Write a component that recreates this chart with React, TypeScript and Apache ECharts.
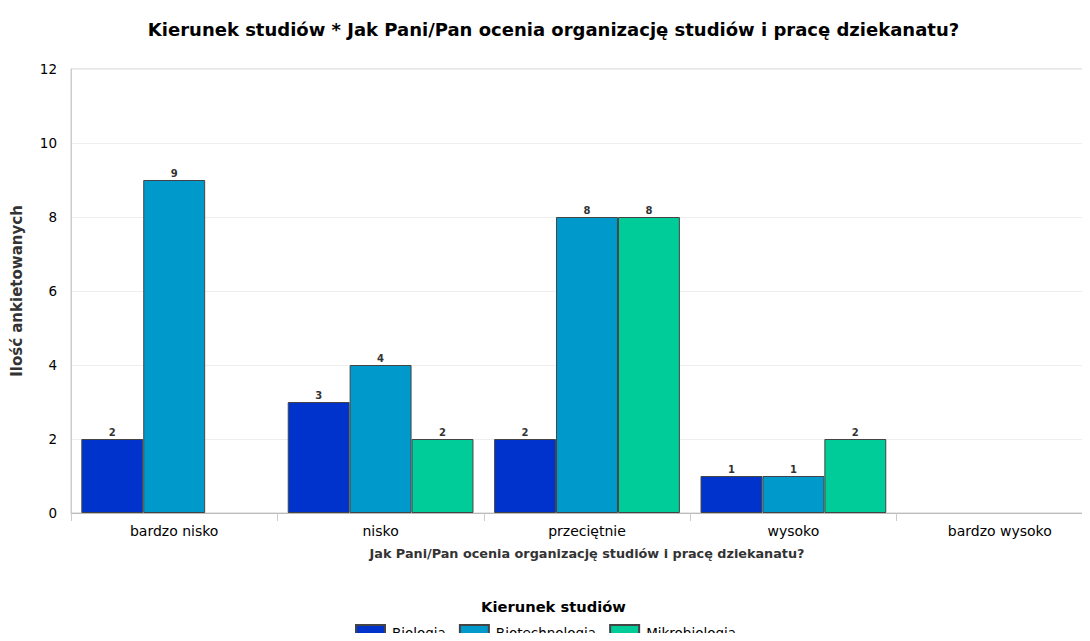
import React, { useEffect, useRef } from "react";
import * as echarts from "echarts";

const categories = ["bardzo nisko", "nisko", "przeciętnie", "wysoko", "bardzo wysoko"];
const seriesNames = ["Biologia", "Biotechnologia", "Mikrobiologia"];
const biologia = [2, 3, 2, 1, null];
const biotechnologia = [9, 4, 8, 1, null];
const mikrobiologia = [null, 2, 8, 2, null];
const colors = ["#0033CC", "#0099CC", "#00CC99"];

export default function App() {
  const ref = useRef<HTMLDivElement>(null);
  useEffect(() => {
    const chart = echarts.init(ref.current!, null, { renderer: "svg" });
    const values = [biologia, biotechnologia, mikrobiologia];
    chart.setOption({
      animation: false,
      title: [
        {
          text: "Kierunek studiów * Jak Pani/Pan ocenia organizację studiów i pracę dziekanatu?",
          left: 548.5,
          textAlign: "center",
          top: 15,
          textStyle: { fontFamily: "DejaVu Sans", fontSize: 18, fontWeight: "bold", color: "#000" },
        },
        {
          text: "Kierunek studiów",
          left: 548.5,
          textAlign: "center",
          top: 594,
          textStyle: { fontFamily: "DejaVu Sans", fontSize: 14.7, fontWeight: "bold", color: "#000" },
        },
      ],
      legend: {
        top: 619,
        left: 350,
        icon: "rect",
        itemWidth: 29,
        itemHeight: 15,
        itemGap: 13,
        data: seriesNames,
        textStyle: { fontFamily: "DejaVu Sans", fontSize: 13.5, color: "#000", padding: [0, 0, 0, 2] },
      },
      grid: {
        left: 71,
        top: 69,
        right: 0,
        bottom: 128,
        show: true,
        borderColor: "#ccc",
        borderWidth: 1,
      },
      xAxis: {
        type: "category",
        data: categories,
        name: "Jak Pani/Pan ocenia organizację studiów i pracę dziekanatu?",
        nameLocation: "middle",
        nameGap: 34,
        nameTextStyle: { fontFamily: "DejaVu Sans", fontSize: 12.8, fontWeight: "bold", color: "#333" },
        axisLine: { lineStyle: { color: "#bbb" } },
        axisTick: { show: true, length: 8, lineStyle: { color: "#ccc" } },
        axisLabel: { fontFamily: "DejaVu Sans", fontSize: 14, color: "#000", margin: 11 },
      },
      yAxis: {
        type: "value",
        min: 0,
        max: 12,
        interval: 2,
        name: "Ilość ankietowanych",
        nameLocation: "middle",
        nameGap: 47,
        nameTextStyle: { fontFamily: "DejaVu Sans", fontSize: 15, fontWeight: "bold", color: "#333" },
        axisLine: { show: true, lineStyle: { color: "#ccc" } },
        axisTick: { show: false },
        axisLabel: { fontFamily: "DejaVu Sans", fontSize: 13.5, color: "#000", margin: 14 },
        splitLine: { lineStyle: { color: "#eee" } },
      },
      series: seriesNames.map((name, i) => ({
        name,
        type: "bar",
        data: values[i],
        barGap: "0%",
        barCategoryGap: "10%",
        itemStyle: { color: colors[i], borderColor: "#444", borderWidth: 1 },
        label: {
          show: true,
          position: "top",
          distance: 2,
          fontFamily: "DejaVu Sans",
          fontSize: 10,
          fontWeight: "bold",
          color: "#333",
        },
      })),
    });
    return () => chart.dispose();
  }, []);
  return (
    <div style={{ width: 1090, height: 641, margin: -8, overflow: "hidden" }}>
      <div ref={ref} style={{ width: 1103, height: 641 }} />
    </div>
  );
}
